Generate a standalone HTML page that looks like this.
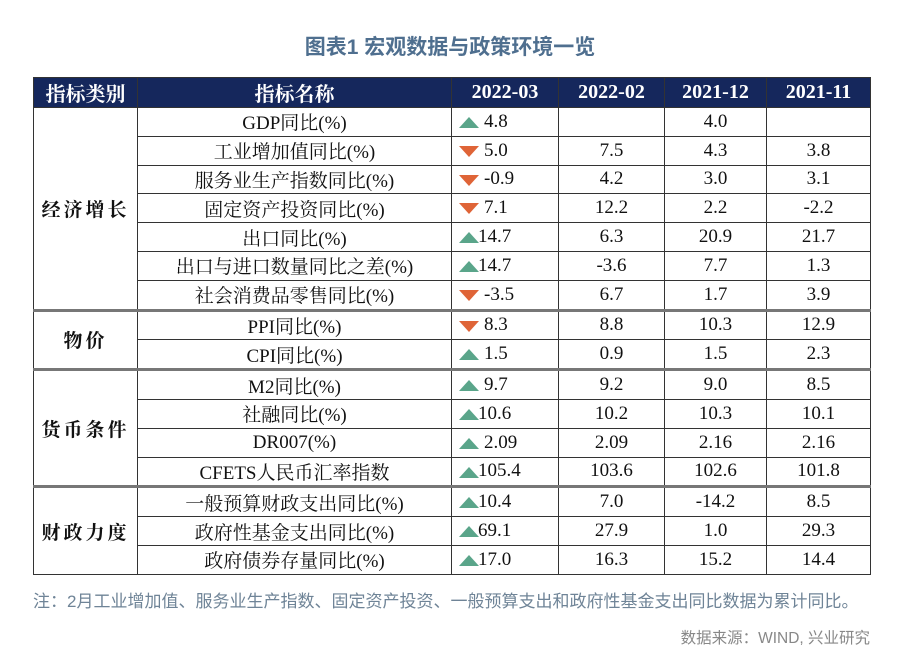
<!DOCTYPE html>
<html><head><meta charset="utf-8"><style>
body{margin:0;width:900px;height:663px;background:#fff;position:relative;overflow:hidden;font-family:"Liberation Serif","Noto Serif CJK SC",serif;}
.title{position:absolute;top:31px;left:0;width:900px;text-align:center;font-family:"Liberation Sans","Noto Sans CJK SC",sans-serif;font-weight:bold;font-size:21px;color:#4f6f8f;}
table{position:absolute;left:33px;top:77px;border-collapse:collapse;table-layout:fixed;width:837px;}
td,th{border:1px solid #333;text-align:center;padding:0;font-size:19px;color:#111;white-space:nowrap;}
th{background:#15275c;color:#fff;height:28px;font-weight:bold;font-size:20px;}
td{height:27.8px;}
.cat{font-weight:bold;letter-spacing:3px;}
tr.sep td{border-top:3px solid #777;}
.v{position:relative;text-align:left;padding-left:32px;}
.up,.dn{position:absolute;left:7px;top:9px;width:0;height:0;border-left:10px solid transparent;border-right:10px solid transparent;}
.up{border-bottom:11px solid #5aa58a;}
.dn{border-top:11px solid #df6437;}
.note{position:absolute;left:33px;top:587px;font-family:"Liberation Sans","Noto Sans CJK SC",sans-serif;font-size:17px;color:#6f8497;white-space:nowrap;}
.src{position:absolute;right:30px;top:626px;font-family:"Liberation Sans","Noto Sans CJK SC",sans-serif;font-size:15.5px;color:#888;}
</style></head><body>
<div class="title">图表1  宏观数据与政策环境一览</div>
<table>
<colgroup><col style="width:104px"><col style="width:314px"><col style="width:107px"><col style="width:106px"><col style="width:102px"><col style="width:104px"></colgroup>
<tr><th>指标类别</th><th>指标名称</th><th>2022-03</th><th>2022-02</th><th>2021-12</th><th>2021-11</th></tr>
<tr><td class="cat" rowspan="7">经济增长</td><td>GDP同比(%)</td><td class="v"><span class="up"></span>4.8</td><td></td><td>4.0</td><td></td></tr>
<tr><td>工业增加值同比(%)</td><td class="v"><span class="dn"></span>5.0</td><td>7.5</td><td>4.3</td><td>3.8</td></tr>
<tr><td>服务业生产指数同比(%)</td><td class="v"><span class="dn"></span>-0.9</td><td>4.2</td><td>3.0</td><td>3.1</td></tr>
<tr><td>固定资产投资同比(%)</td><td class="v"><span class="dn"></span>7.1</td><td>12.2</td><td>2.2</td><td>-2.2</td></tr>
<tr><td>出口同比(%)</td><td class="v" style="padding-left:26px"><span class="up"></span>14.7</td><td>6.3</td><td>20.9</td><td>21.7</td></tr>
<tr><td>出口与进口数量同比之差(%)</td><td class="v" style="padding-left:26px"><span class="up"></span>14.7</td><td>-3.6</td><td>7.7</td><td>1.3</td></tr>
<tr><td>社会消费品零售同比(%)</td><td class="v"><span class="dn"></span>-3.5</td><td>6.7</td><td>1.7</td><td>3.9</td></tr>
<tr class="sep"><td class="cat" rowspan="2">物价</td><td>PPI同比(%)</td><td class="v"><span class="dn"></span>8.3</td><td>8.8</td><td>10.3</td><td>12.9</td></tr>
<tr><td>CPI同比(%)</td><td class="v"><span class="up"></span>1.5</td><td>0.9</td><td>1.5</td><td>2.3</td></tr>
<tr class="sep"><td class="cat" rowspan="4">货币条件</td><td>M2同比(%)</td><td class="v"><span class="up"></span>9.7</td><td>9.2</td><td>9.0</td><td>8.5</td></tr>
<tr><td>社融同比(%)</td><td class="v" style="padding-left:26px"><span class="up"></span>10.6</td><td>10.2</td><td>10.3</td><td>10.1</td></tr>
<tr><td>DR007(%)</td><td class="v"><span class="up"></span>2.09</td><td>2.09</td><td>2.16</td><td>2.16</td></tr>
<tr><td>CFETS人民币汇率指数</td><td class="v" style="padding-left:26px"><span class="up"></span>105.4</td><td>103.6</td><td>102.6</td><td>101.8</td></tr>
<tr class="sep"><td class="cat" rowspan="3">财政力度</td><td>一般预算财政支出同比(%)</td><td class="v" style="padding-left:26px"><span class="up"></span>10.4</td><td>7.0</td><td>-14.2</td><td>8.5</td></tr>
<tr><td>政府性基金支出同比(%)</td><td class="v" style="padding-left:26px"><span class="up"></span>69.1</td><td>27.9</td><td>1.0</td><td>29.3</td></tr>
<tr><td>政府债券存量同比(%)</td><td class="v" style="padding-left:26px"><span class="up"></span>17.0</td><td>16.3</td><td>15.2</td><td>14.4</td></tr>
</table>
<div class="note">注：2月工业增加值、服务业生产指数、固定资产投资、一般预算支出和政府性基金支出同比数据为累计同比。</div>
<div class="src">数据来源：WIND, 兴业研究</div>
</body></html>
